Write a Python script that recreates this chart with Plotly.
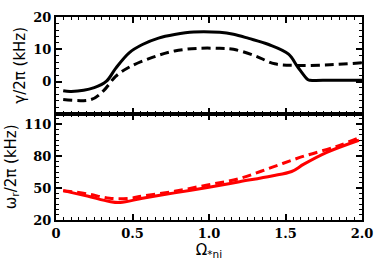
import plotly.graph_objects as go

# Top panel: growth rate gamma/2pi (kHz)
g_x_solid = [0.047, 0.1, 0.25, 0.33, 0.39, 0.48, 0.565, 0.67, 0.775, 0.9, 1.07, 1.16, 1.26, 1.39, 1.52, 1.58, 1.645, 1.66, 1.8, 2.0]
g_y_solid = [-2.9, -3.1, -1.9, 0.1, 4.1, 9.0, 11.5, 13.5, 14.6, 15.4, 15.3, 14.7, 13.4, 11.5, 8.5, 4.5, 0.6, 0.4, 0.4, 0.4]
g_x_dash = [0.047, 0.23, 0.31, 0.39, 0.48, 0.63, 0.775, 0.925, 1.07, 1.16, 1.3, 1.43, 1.58, 1.79, 2.0]
g_y_dash = [-5.6, -5.6, -2.9, 1.6, 4.5, 7.5, 9.5, 10.3, 10.3, 10.0, 8.0, 5.5, 5.0, 5.2, 5.8]

# Bottom panel: real frequency omega_r/2pi (kHz)
w_x_solid = [0.047, 0.205, 0.35, 0.42, 0.565, 0.775, 0.99, 1.2, 1.41, 1.54, 1.62, 1.77, 1.98]
w_y_solid = [47.6, 42.5, 37.4, 36.5, 40.4, 45.5, 50.6, 56.0, 61.4, 65.6, 72.5, 83.6, 95.0]
w_x_dash = [0.047, 0.205, 0.35, 0.48, 0.565, 0.775, 0.99, 1.2, 1.41, 1.62, 1.83, 1.98]
w_y_dash = [47.6, 44.6, 40.4, 40.4, 42.5, 47.0, 53.0, 59.0, 69.5, 80.0, 89.0, 97.4]

x_tickvals = [0, 0.5, 1.0, 1.5, 2.0]
x_ticktext = ["0", "0.5", "1.0", "1.5", "2.0"]
g_tickvals = [0, 10, 20]
w_tickvals = [20, 50, 80, 110]

fig = go.Figure()
fig.add_trace(go.Scatter(x=g_x_solid, y=g_y_solid, mode="lines", line=dict(color="black", width=3, shape="spline"), xaxis="x2", yaxis="y2"))
fig.add_trace(go.Scatter(x=g_x_dash, y=g_y_dash, mode="lines", line=dict(color="black", width=3, dash="9px,5px", shape="spline"), xaxis="x2", yaxis="y2"))
fig.add_trace(go.Scatter(x=w_x_solid, y=w_y_solid, mode="lines", line=dict(color="#ff0000", width=3, shape="spline"), xaxis="x", yaxis="y"))
fig.add_trace(go.Scatter(x=w_x_dash, y=w_y_dash, mode="lines", line=dict(color="#ff0000", width=3, dash="9px,5px", shape="spline"), xaxis="x", yaxis="y"))

tickfont = dict(family="DejaVu Serif", size=13, color="black", weight="bold")
titlefont = dict(family="DejaVu Sans", size=15, color="black")
common = dict(showline=True, linecolor="black", linewidth=2, mirror="allticks", ticks="inside",
              ticklen=6, tickwidth=1.5, tickcolor="black", showgrid=False, zeroline=False, tickfont=tickfont,
              ticklabeloverflow="allow")

bottom_frac = 110 / 210
fig.update_layout(
    width=383, height=268,
    margin=dict(l=51, r=17, t=10, b=48),
    paper_bgcolor="white", plot_bgcolor="white",
    showlegend=False,
    xaxis=dict(range=[0, 2.0], tickvals=x_tickvals, ticktext=x_ticktext, anchor="y",
               minor=dict(dtick=0.05, tick0=0, ticks="inside", ticklen=3, tickcolor="black", tickwidth=1),
               title=dict(text="Ω<sub>*ni</sub>", font=dict(family="DejaVu Sans", size=15, color="black"), standoff=2), **common),
    xaxis2=dict(range=[0, 2.0], tickvals=x_tickvals, showticklabels=False, anchor="y2", matches="x",
                minor=dict(dtick=0.05, tick0=0, ticks="inside", ticklen=3, tickcolor="black", tickwidth=1),
                **common),
    yaxis=dict(domain=[0, bottom_frac], range=[20, 120], tickvals=w_tickvals,
               minor=dict(dtick=5, tick0=0, ticks="inside", ticklen=3, tickcolor="black", tickwidth=1),
               title=dict(text="ω<sub>r</sub>/2π (kHz)", font=titlefont, standoff=4), **common),
    yaxis2=dict(domain=[bottom_frac, 1], range=[-10, 20.05], tickvals=g_tickvals,
                minor=dict(dtick=2, tick0=0, ticks="inside", ticklen=3, tickcolor="black", tickwidth=1),
                title=dict(text="γ/2π (kHz)", font=titlefont, standoff=4), **common),
)

fig.write_html("out.html", config={"displayModeBar": False},
               post_script="document.body.style.margin='0';")
